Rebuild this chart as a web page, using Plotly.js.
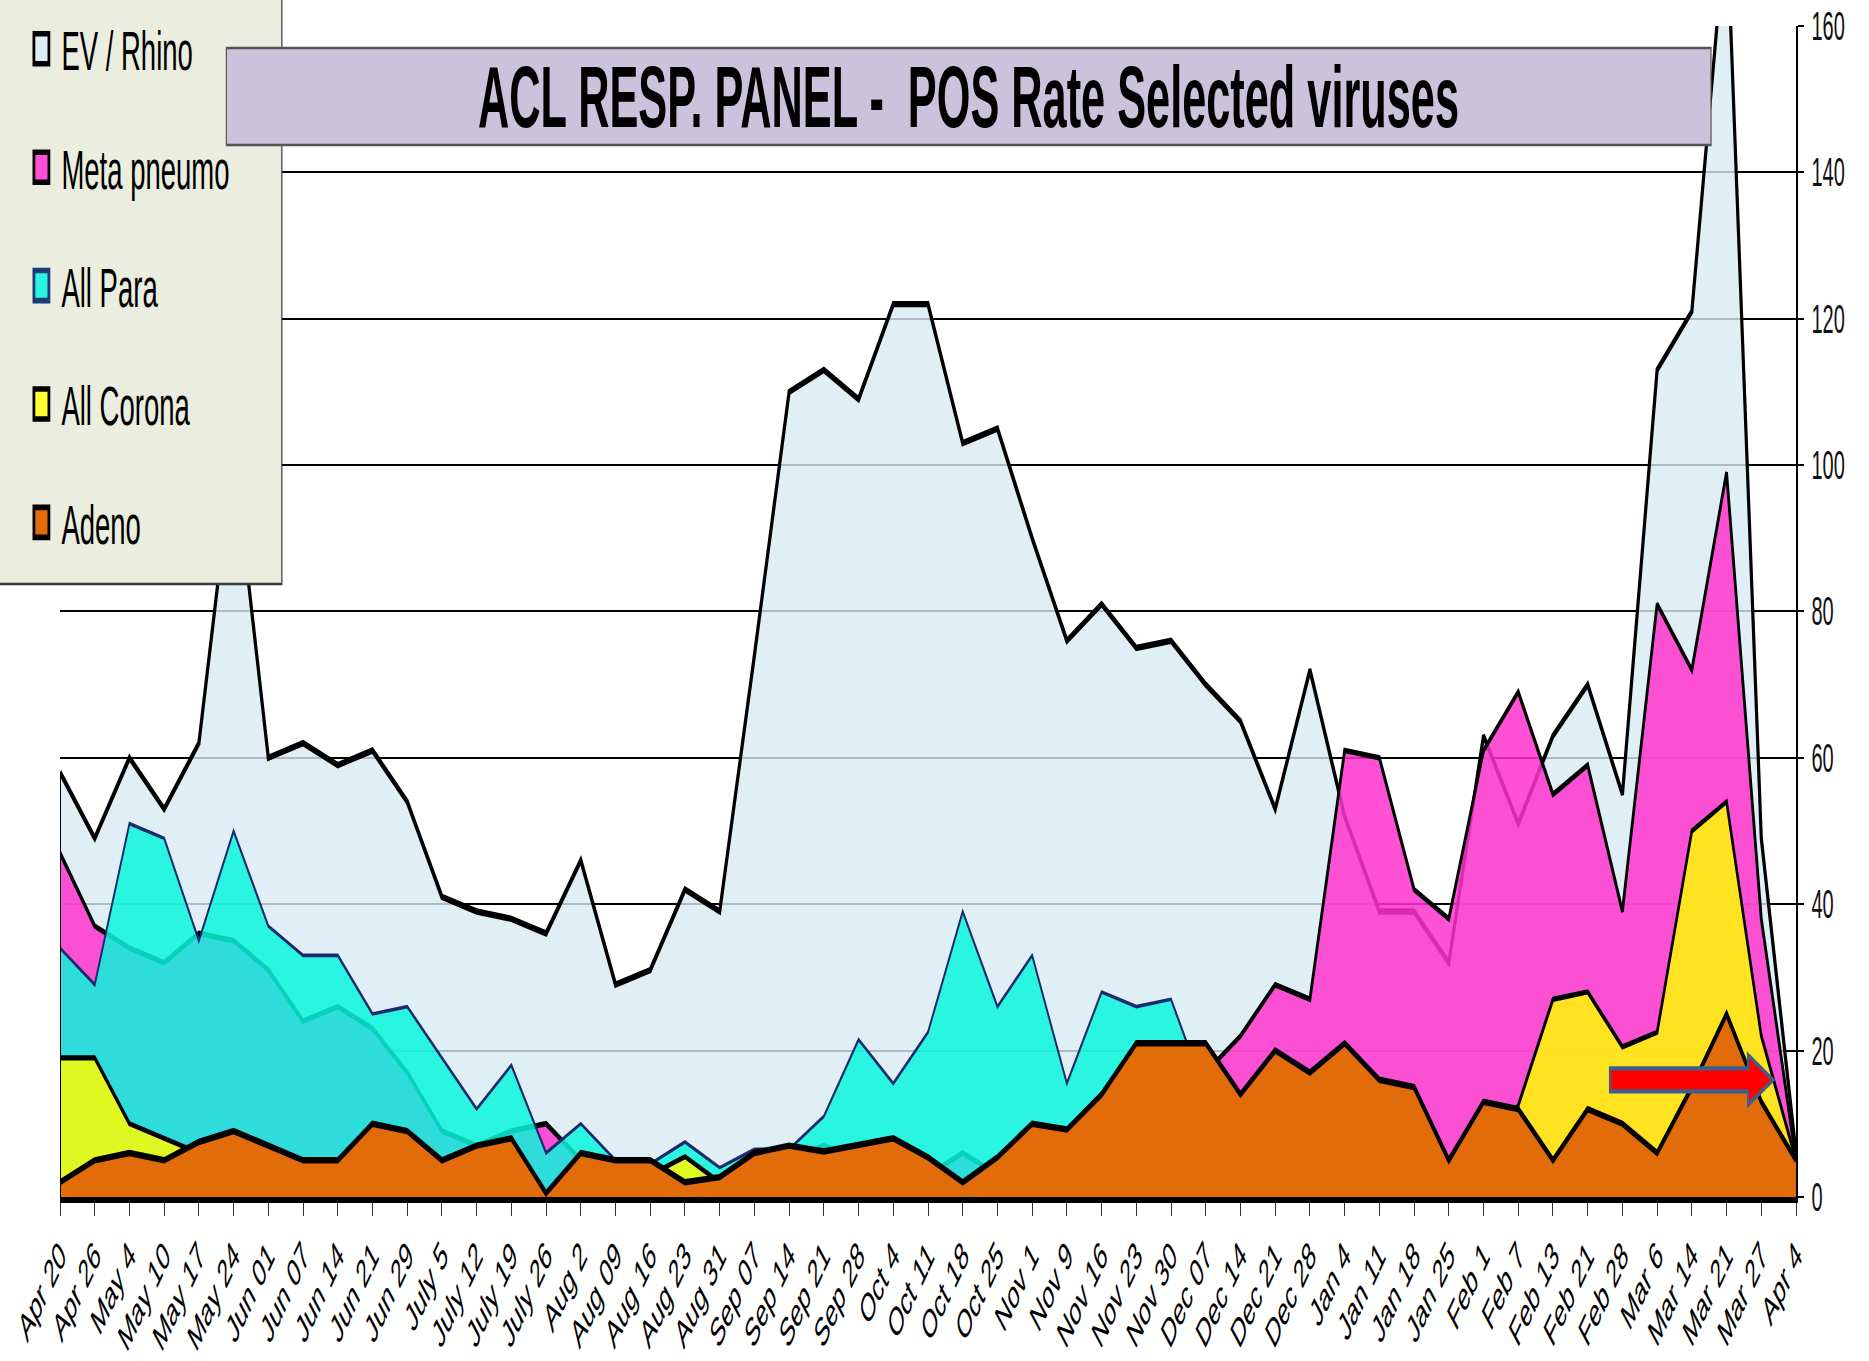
<!DOCTYPE html>
<html><head><meta charset="utf-8">
<script src="https://cdn.plot.ly/plotly-3.0.1.min.js"></script>
<style>
html,body{margin:0;padding:0;background:#fff;overflow:hidden}
#wrap{width:1869px;height:1361px;overflow:hidden;position:relative;background:#fff}
#chart{width:1869px;height:680px;transform-origin:0 0}
</style></head>
<body><div id="wrap"><div id="chart"></div></div>
<script>
// ---- data ----
const weeks = ['Apr 20','Apr 26','May 4','May 10','May 17','May 24','Jun 01','Jun 07','Jun 14','Jun 21','Jun 29','July 5','July 12','July 19','July 26','Aug 2','Aug 09','Aug 16','Aug 23','Aug 31','Sep 07','Sep 14','Sep 21','Sep 28','Oct 4','Oct 11','Oct 18','Oct 25','Nov 1','Nov 9','Nov 16','Nov 23','Nov 30','Dec 07','Dec 14','Dec 21','Dec 28','Jan 4','Jan 11','Jan 18','Jan 25','Feb 1','Feb 7','Feb 13','Feb 21','Feb 28','Mar 6','Mar 14','Mar 21','Mar 27','Apr 4'];
const evRhino   = [58,49,60,53,62,102,60,62,59,61,54,41,39,38,36,46,29,31,42,39,74,110,113,109,122,122,103,105,90,76,81,75,76,70,65,53,72,52,39,39,32,63,51,63,70,55,113,121,175,49,6];
const metaPneumo= [47,37,34,32,36,35,31,24,26,23,17,9,7,9,10,5,4,3,2,2,4,5,7,5,4,3,6,3,4,5,6,8,10,17,22,29,27,61,60,42,38,61,69,55,59,39,81,72,99,38,5];
const allPara   = [34,29,51,49,35,50,37,33,33,25,26,19,12,18,6,10,5,4.5,7.5,4,6.5,6.5,11,21.5,15.5,22.5,39,26,33,15.5,28,26,27,14,10,8,6,5,4,5,3,4,3,3,4,3,4,5,6,4,3];
const allCorona = [19,19,10,8,6,5,4,4,3,4,3,3,2,2,0.5,2,3,3,5.5,2,3,3,4,4,5,3,1,3,5,5,6,8,9,10,8,9,10,12,10,8,4,7,12.5,27,28,20.5,22.5,50,54,22,5];
const adeno     = [2,5,6,5,7.5,9,7,5,5,10,9,5,7,8,0.5,6,5,5,2,2.7,6,7,6.2,7,8,5.4,2,5.4,10,9.2,14,21,21,21,14,20,17,21,16,15,5,13,12,5,12,10,6,15,25,13,5];
const seriesNames = ['EV / Rhino','Meta pneumo','All Para','All Corona','Adeno'];
const yTicks = [0,20,40,60,80,100,120,140,160];
const titleText = 'ACL RESP. PANEL -\u00a0 POS Rate Selected viruses';

// ---- styling ----
const W = 1869, H = 1361, HP = 680, K = H / HP;   // chart drawn at HP tall, stretched vertically by K
const plotL = 59.6, plotR = 1796, plotT = 26, plotB = 1197; // plot area in final pixels
const px = x => (x - plotL) / (plotR - plotL);
const py = y => (plotB - y) / (plotB - plotT);
const FONT = 'Liberation Sans, Arial, sans-serif';

const fills  = ['rgba(216,235,242,0.8)','rgba(255,50,206,0.85)','rgba(9,246,220,0.85)','rgba(255,252,0,0.85)','rgb(227,108,10)'];
const lines  = ['#000','#000','#1a2a6c','#000','#000'];
const widths = [3.2,2.8,1.8,2.6,3.2];
const legendColors = ['#dfeef5','#ff4fd6','#2af5e0','#ffff33','#e36c0a'];
const legendBorders = ['#000','#000','#1f3a7a','#000','#000'];
const values = [evRhino, metaPneumo, allPara, allCorona, adeno];

const data = [];
values.forEach((v, i) => {
  data.push({type:'scatter', mode:'lines', x:weeks, y:v, name:seriesNames[i],
    fill:'tozeroy', fillcolor:fills[i], line:{color:lines[i], width:widths[i]},
    showlegend:false, hoverinfo:'skip', legendgroup:'g'+i});
});
values.forEach((v, i) => {
  data.push({type:'scatter', mode:'markers', x:[null], y:[null], name:seriesNames[i],
    legendgroup:'g'+i, showlegend:true, hoverinfo:'skip',
    marker:{symbol:'square', size:15, color:legendColors[i], line:{color:legendBorders[i], width:2.8}}});
});

const arrowPath = 'M' + px(1610) + ',' + py(1068.5) + ' L' + px(1748) + ',' + py(1068.5) +
  ' L' + px(1748) + ',' + py(1055) + ' L' + px(1773) + ',' + py(1080) + ' L' + px(1748) + ',' + py(1105) +
  ' L' + px(1748) + ',' + py(1091.5) + ' L' + px(1610) + ',' + py(1091.5) + ' Z';

const layout = {
  width: W, height: HP,
  margin: {l: plotL, r: W - plotR, t: plotT / K, b: (H - plotB) / K, pad: 0, autoexpand: false},
  paper_bgcolor: '#fff', plot_bgcolor: '#fff',
  font: {family: FONT, color: '#000'},
  title: {text: titleText, font: {family: FONT, size: 43.3, weight: 700, color: '#000'},
          x: 968.5 / W, xref: 'container', xanchor: 'center',
          y: 1 - (96.5 / K) / HP, yref: 'container', yanchor: 'middle', automargin: false},
  xaxis: {type: 'category', range: [0, weeks.length - 1], showline: true, linecolor: '#000', linewidth: 3,
          ticks: 'outside', ticklen: 6.5, tickwidth: 1, tickcolor: '#333', tickangle: -47,
          tickfont: {family: FONT, size: 20, color: '#000'}, showgrid: false, zeroline: false,
          automargin: false, fixedrange: true},
  yaxis: {side: 'right', range: [0, 160], tickvals: yTicks, ticktext: yTicks.map(String),
          showgrid: true, gridcolor: '#000', gridwidth: 1,
          showline: true, linecolor: '#000', linewidth: 1.5, ticks: 'outside', ticklen: 6, tickwidth: 1,
          tickcolor: '#000', tickfont: {family: FONT, size: 20, color: '#111'}, ticklabelstandoff: 4,
          zeroline: false, automargin: false, fixedrange: true},
  showlegend: true,
  legend: {x: px(21), xanchor: 'left', y: py(0), yanchor: 'top', bgcolor: 'rgba(0,0,0,0)', borderwidth: 0,
           font: {family: FONT, size: 27.5, color: '#000'}, tracegroupgap: 20.4, traceorder: 'grouped'},
  shapes: [
    {type: 'line', xref: 'x', yref: 'y', x0: weeks[0], x1: weeks[0], y0: 0, y1: evRhino[0],
     line: {color: '#000', width: 2}, layer: 'above'},
    {type: 'rect', xref: 'paper', yref: 'paper', x0: px(-3), x1: px(281.5), y0: py(584), y1: py(-3),
     fillcolor: '#ebeddf', line: {color: '#3a3a3a', width: 1.2}, layer: 'above'},
    {type: 'rect', xref: 'paper', yref: 'paper', x0: px(226), x1: px(1711), y0: py(145), y1: py(48),
     fillcolor: '#cbc3dc', line: {color: '#555', width: 1.2}, layer: 'above'},
    {type: 'path', xref: 'paper', yref: 'paper', path: arrowPath, fillcolor: '#ff0000',
     line: {color: '#3e5f8a', width: 2.2}, layer: 'above'}
  ]
};

Plotly.newPlot('chart', data, layout, {displayModeBar: false, staticPlot: true}).then(() => {
  document.getElementById('chart').style.transform = 'scaleY(' + K + ')';
});
</script></body></html>
